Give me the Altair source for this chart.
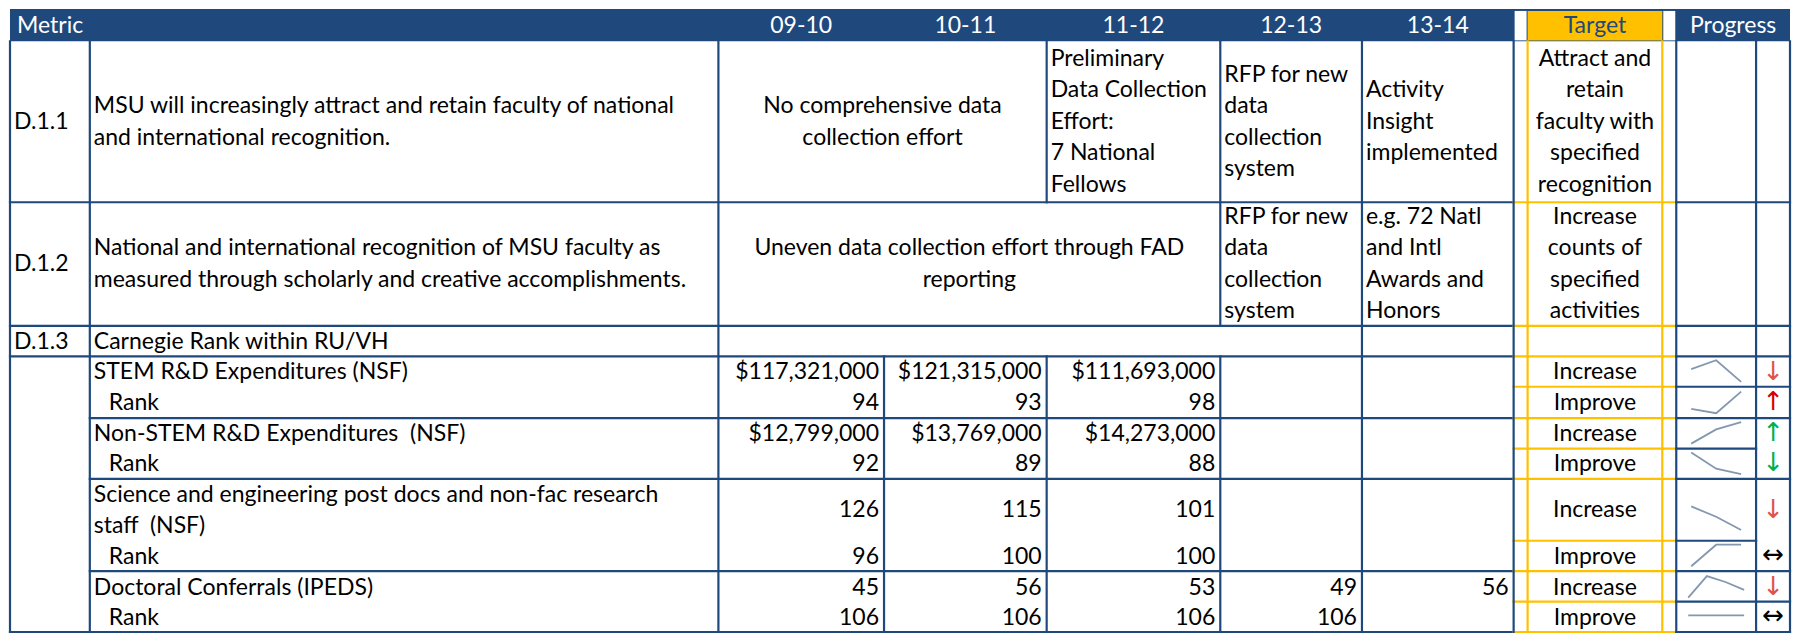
import altair as alt
import pandas as pd

# ---------------- data ----------------
years = ["09-10", "10-11", "11-12", "12-13", "13-14"]
metric_ids = ["D.1.1", "D.1.2", "D.1.3"]

d11_desc = ["MSU will increasingly attract and retain faculty of national",
            "and international recognition."]
d12_desc = ["National and international recognition of MSU faculty as",
            "measured through scholarly and creative accomplishments."]
d13_desc = ["Carnegie Rank within RU/VH"]

d11_0911 = ["No comprehensive data", "collection effort"]
d11_1112 = ["Preliminary", "Data Collection", "Effort:", "7 National", "Fellows"]
d11_1213 = ["RFP for new", "data", "collection", "system"]
d11_1314 = ["Activity", "Insight", "implemented"]
d11_target = ["Attract and", "retain", "faculty with", "specified", "recognition"]

d12_0912 = ["Uneven data collection effort through FAD", "reporting"]
d12_1213 = ["RFP for new", "data", "collection", "system"]
d12_1314 = ["e.g. 72 Natl", "and Intl", "Awards and", "Honors"]
d12_target = ["Increase", "counts of", "specified", "activities"]

sub_names = [["STEM R&D Expenditures (NSF)"],
             ["Non-STEM R&D Expenditures \u00a0(NSF)"],
             ["Science and engineering post docs and non-fac research", "staff \u00a0(NSF)"],
             ["Doctoral Conferrals (IPEDS)"]]
rank_label = "Rank"

stem_exp = [117321000, 121315000, 111693000]
stem_rank = [94, 93, 98]
nonstem_exp = [12799000, 13769000, 14273000]
nonstem_rank = [92, 89, 88]
postdocs = [126, 115, 101]
postdocs_rank = [96, 100, 100]
doctoral = [45, 56, 53, 49, 56]
doctoral_rank = [106, 106, 106, 106]
doctoral_spark = [45, 56, 53, 49]

sub_targets = ["Increase", "Improve", "Increase", "Improve",
               "Increase", "Improve", "Increase", "Improve"]
arrows = ["↓", "↑", "↑", "↓", "↓", "↔", "↓", "↔"]
arrow_colors = ["#E0524A", "#D40000", "#00B050", "#00B050",
                "#E0524A", "#000000", "#E0524A", "#000000"]

# ---------------- layout ----------------
BLUE = "#1F497D"
GOLD = "#FFC000"
SPARK = "#8497B0"
FONT = "Lato"
FS = 23
LH = 32

XL, XID, XDESC = 8, 88, 718
XC = [718, 884, 1047, 1221, 1363, 1515]
XT1, XT2 = 1529, 1664
XP0, XP1, XR = 1678, 1758, 1792
Y_HEAD = (5, 38)

xs = alt.Scale(domain=[6, 1794], nice=False, zero=False)
ys = alt.Scale(domain=[4, 641], nice=False, zero=False, reverse=True)

# ---------------- header rects ----------------
rects = pd.DataFrame([
    dict(x=XL, x2=XR, y=Y_HEAD[0], y2=Y_HEAD[1], c=BLUE),
    dict(x=XC[5] + 1, x2=XT1 - 1, y=7, y2=37, c="#FFFFFF"),
    dict(x=XT1, x2=XT2, y=7, y2=37, c=GOLD),
    dict(x=XT2 + 1, x2=XP0 - 1, y=7, y2=37, c="#FFFFFF"),
])

# ---------------- grid lines ----------------
segs = []
def h(y, x1, x2, c=BLUE):
    segs.append(dict(x=x1, x2=x2, y=y, y2=y, c=c, w=2.2))
def v(x, y1, y2, c=BLUE):
    segs.append(dict(x=x, x2=x, y=y1, y2=y2, c=c, w=2.2))

for y in [202, 328, 359, 640]:
    h(y, XL, XC[5]); h(y, XC[5], XP0, GOLD); h(y, XP0, XR)
for y in [422, 484, 578]:
    h(y, XID, XC[5]); h(y, XC[5], XP0, GOLD); h(y, XP0, XR)
for y in [390, 609]:
    h(y, XC[5], XP0, GOLD); h(y, XP0, XR)
for y in [453, 547]:
    h(y, XC[5], XP0, GOLD); h(y, XP0, XP1)

top, bot = Y_HEAD[1], 640
for x in [XL, XID, XDESC, XC[4], XC[5], XP0, XP1, XR]:
    v(x, top, bot)
v(XC[1], 359, bot)
v(XC[2], top, 202); v(XC[2], 359, bot)
v(XC[3], top, 328); v(XC[3], 359, bot)
v(XT1, top, bot, GOLD); v(XT2, top, bot, GOLD)
segs_df = pd.DataFrame(segs)

# ---------------- texts ----------------
texts = []
def t(x, y, s, align="left", color="#000000", size=FS):
    texts.append(dict(x=x, y=y, s=s, a=align, c=color, fs=size))
def block(lines, x, yc, align="left"):
    n = len(lines)
    for i, s in enumerate(lines):
        t(x, yc + (i - (n - 1) / 2) * LH, s, align)

hy = 22
t(15, hy, "Metric", color="#FFFFFF")
for i, yr in enumerate(years):
    t((XC[i] + XC[i + 1]) / 2, hy, yr, "center", "#FFFFFF")
t((XT1 + XT2) / 2, hy, "Target", "center", BLUE)
t((XP0 + XR) / 2, hy, "Progress", "center", "#FFFFFF")

yc = 120
t(12, yc, metric_ids[0]); block(d11_desc, 92, yc)
block(d11_0911, (XC[0] + XC[2]) / 2, yc, "center")
block(d11_1112, XC[2] + 4, yc); block(d11_1213, XC[3] + 4, yc)
block(d11_1314, XC[4] + 4, yc); block(d11_target, (XT1 + XT2) / 2, yc, "center")
yc = 265
t(12, yc, metric_ids[1]); block(d12_desc, 92, yc)
block(d12_0912, (XC[0] + XC[3]) / 2, yc, "center")
block(d12_1213, XC[3] + 4, yc); block(d12_1314, XC[4] + 4, yc)
block(d12_target, (XT1 + XT2) / 2, yc, "center")
t(12, 344, metric_ids[2]); t(92, 344, d13_desc[0])

def money(v):
    return "${:,}".format(v)
sub_val_rows = [
    ([money(v) for v in stem_exp], [str(v) for v in stem_rank]),
    ([money(v) for v in nonstem_exp], [str(v) for v in nonstem_rank]),
    ([str(v) for v in postdocs], [str(v) for v in postdocs_rank]),
    ([str(v) for v in doctoral], [str(v) for v in doctoral_rank]),
]
name_y = [375, 438, 516, 595]
rank_y = [407, 469, 564, 626]
for k in range(4):
    block(sub_names[k], 92, name_y[k])
    t(107, rank_y[k], rank_label)
    vals, ranks = sub_val_rows[k]
    for i, s in enumerate(vals):
        t(XC[i + 1] - 5, name_y[k], s, "right")
    for i, s in enumerate(ranks):
        t(XC[i + 1] - 5, rank_y[k], s, "right")
    t((XT1 + XT2) / 2, name_y[k], sub_targets[2 * k], "center")
    t((XT1 + XT2) / 2, rank_y[k], sub_targets[2 * k + 1], "center")

texts_df = pd.DataFrame(texts)

arrow_y = [375, 406, 437, 468, 516, 562, 594, 624]
arrows_df = pd.DataFrame(dict(x=[(XP1 + XR) / 2] * 8, y=arrow_y, s=arrows, c=arrow_colors))

spark_series = [stem_exp, stem_rank, nonstem_exp, nonstem_rank,
                postdocs, postdocs_rank, doctoral_spark, doctoral_rank]
spark_box = [(363, 385), (395, 417), (426, 448), (457, 479),
             (512, 536), (551, 573), (583, 605), (612, 634)]
spark_xr = [(1693, 1743)] * 6 + [(1690, 1746)] * 2
sp = []
for k, ser in enumerate(spark_series):
    for i, val in enumerate(ser):
        sp.append(dict(series=k, idx=i, value=val, xl=spark_xr[k][0], xr=spark_xr[k][1],
                       yt=spark_box[k][0], yb=spark_box[k][1]))
spark_df = pd.DataFrame(sp)

# ---------------- chart ----------------
def X(f): return alt.X(f, type="quantitative", scale=xs, axis=None)
def Y(f): return alt.Y(f, type="quantitative", scale=ys, axis=None)

rect_layer = alt.Chart(rects).mark_rect().encode(
    x=X("x"), x2="x2", y=Y("y"), y2="y2", color=alt.Color("c:N", scale=None))

rule_layer = alt.Chart(segs_df).mark_rule(strokeCap="square").encode(
    x=X("x"), x2="x2", y=Y("y"), y2="y2",
    color=alt.Color("c:N", scale=None),
    strokeWidth=alt.StrokeWidth("w:Q", scale=None))

text_layers = []
for a in ["left", "center", "right"]:
    sub = texts_df[texts_df.a == a]
    text_layers.append(
        alt.Chart(sub).mark_text(align=a, baseline="middle", font=FONT).encode(
            x=X("x"), y=Y("y"), text="s:N",
            color=alt.Color("c:N", scale=None),
            size=alt.Size("fs:Q", scale=None)))

spark_layer = alt.Chart(spark_df).transform_joinaggregate(
    vmin="min(value)", vmax="max(value)", n="count()", groupby=["series"]
).transform_calculate(
    px="datum.xl + datum.idx * (datum.xr - datum.xl) / (datum.n - 1)",
    py="datum.vmax == datum.vmin ? (datum.yt + datum.yb) / 2 : "
       "datum.yt + (datum.vmax - datum.value) / (datum.vmax - datum.vmin) * (datum.yb - datum.yt)"
).mark_line(color=SPARK, strokeWidth=1.8).encode(
    x=X("px"), y=Y("py"), detail="series:N", order="idx:Q")

arrow_layer = alt.Chart(arrows_df).mark_text(
    align="center", baseline="middle", font="DejaVu Sans", fontSize=26).encode(
    x=X("x"), y=Y("y"), text="s:N", color=alt.Color("c:N", scale=None))

chart = alt.layer(rect_layer, rule_layer, *text_layers, spark_layer, arrow_layer).properties(
    width=1784, height=625, padding=0,
    autosize=alt.AutoSizeParams(type="none"), background="#FFFFFF"
).configure_view(stroke=None)

chart.save("out.html", embed_options={"renderer": "svg", "actions": False})
